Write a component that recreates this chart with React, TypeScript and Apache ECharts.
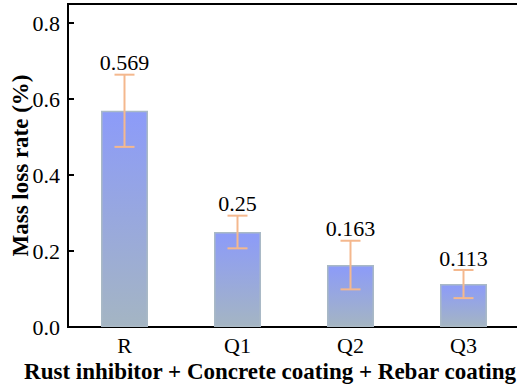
import React, { useEffect, useRef } from 'react';
import * as echarts from 'echarts';

const categories = ['R', 'Q1', 'Q2', 'Q3'];
const massLoss = [0.569, 0.25, 0.163, 0.113];
const errors = [0.095, 0.043, 0.064, 0.037];
const xTitle = 'Rust inhibitor + Concrete coating + Rebar coating';
const yTitle = 'Mass loss rate (%)';

const FONT = 'Times New Roman, Liberation Serif, serif';

export default function App() {
  const ref = useRef<HTMLDivElement>(null);
  useEffect(() => {
    if (!ref.current) return;
    const chart = echarts.init(ref.current, null, { renderer: 'svg' });
    const errData = massLoss.map((v, i) => [i, v, errors[i]]);
    chart.setOption({
      animation: false,
      textStyle: { fontFamily: FONT },
      grid: {
        left: 68,
        right: -3,
        top: 4,
        bottom: 58,
        show: true,
        borderColor: '#000',
        borderWidth: 2,
        backgroundColor: 'transparent',
        containLabel: false,
        outerBoundsMode: 'none',
      },
      xAxis: {
        type: 'category',
        data: categories,
        name: xTitle,
        nameLocation: 'middle',
        nameGap: 33,
        nameMoveOverlap: false,
        nameTextStyle: {
          fontFamily: FONT,
          fontWeight: 'bold',
          fontSize: 23,
          color: '#000',
          padding: [0, 48, 0, 0],
        },
        axisLine: { lineStyle: { color: '#000', width: 2 } },
        axisTick: { show: false },
        axisLabel: { fontFamily: FONT, fontSize: 22, color: '#000', margin: 7 },
      },
      yAxis: {
        type: 'value',
        min: 0,
        max: 0.85,
        interval: 0.2,
        name: yTitle,
        nameLocation: 'middle',
        nameGap: 36,
        nameMoveOverlap: false,
        nameTextStyle: {
          fontFamily: FONT,
          fontWeight: 'bold',
          fontSize: 23,
          color: '#000',
        },
        axisLine: { show: true, lineStyle: { color: '#000', width: 2 } },
        axisTick: { show: true, inside: true, length: 6, lineStyle: { color: '#000', width: 2 } },
        splitLine: { show: false },
        axisLabel: {
          fontFamily: FONT,
          fontSize: 22,
          color: '#000',
          margin: 8,
          showMaxLabel: false,
          formatter: (v: number) => (v > 0.81 ? '' : v.toFixed(1)),
        },
      },
      series: [
        {
          type: 'bar',
          data: massLoss,
          barWidth: 47,
          itemStyle: {
            color: new echarts.graphic.LinearGradient(0, 0, 0, 1, [
              { offset: 0, color: '#8c9bf9' },
              { offset: 1, color: '#a4b5c3' },
            ]),
            borderColor: '#a9b9c6',
            borderWidth: 1.5,
          },
          z: 2,
        },
        {
          type: 'custom',
          data: errData,
          z: 5,
          renderItem: (params: any, api: any) => {
            const i = api.value(0);
            const m = api.value(1);
            const e = api.value(2);
            const top = api.coord([i, m + e]);
            const bot = api.coord([i, m - e]);
            const half = 10;
            const ls = { stroke: '#f4b88e', lineWidth: 2 };
            return {
              type: 'group',
              children: [
                { type: 'line', shape: { x1: top[0], y1: top[1], x2: bot[0], y2: bot[1] }, style: ls },
                { type: 'line', shape: { x1: top[0] - half, y1: top[1], x2: top[0] + half, y2: top[1] }, style: ls },
                { type: 'line', shape: { x1: bot[0] - half, y1: bot[1], x2: bot[0] + half, y2: bot[1] }, style: ls },
                {
                  type: 'text',
                  x: top[0],
                  y: top[1] - 1,
                  style: {
                    text: String(m),
                    font: '22px ' + FONT,
                    fontFamily: FONT,
                    fontSize: 22,
                    fill: '#000',
                    align: 'center',
                    verticalAlign: 'bottom',
                  },
                },
              ],
            };
          },
        },
      ],
    });
    return () => chart.dispose();
  }, []);
  return (
    <div
      ref={ref}
      style={{ position: 'fixed', left: 0, top: 0, width: 517, height: 385, background: '#fff' }}
    />
  );
}
